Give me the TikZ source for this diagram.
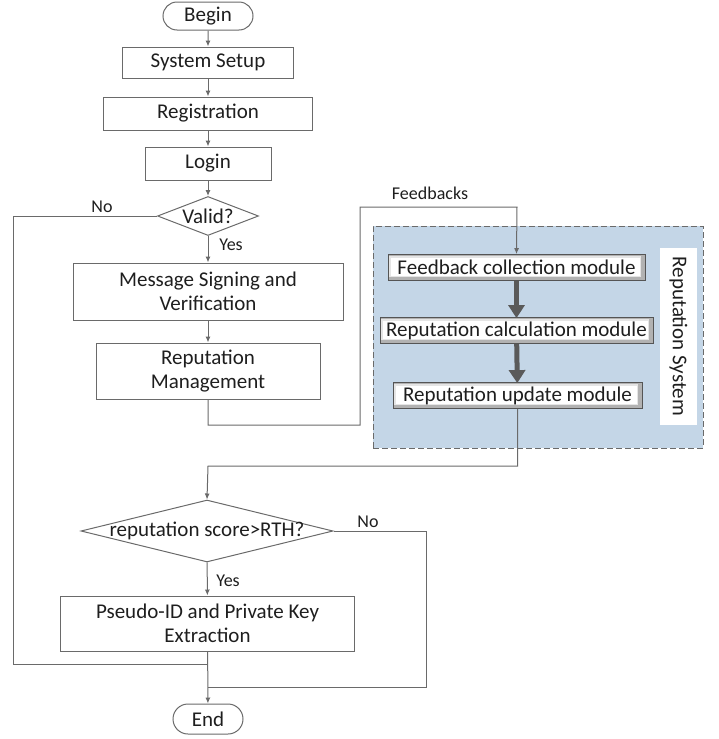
\documentclass[tikz,border=0pt]{standalone}
\usepackage{fontspec}
\setmainfont{Carlito}
\usepackage{xcolor}
\usepackage{tikz}
\usetikzlibrary{arrows.meta, positioning, shapes.geometric, shapes.misc}

\definecolor{lgray}{HTML}{6A6A6A}
\definecolor{txt}{HTML}{1E1E1E}
\definecolor{sysblue}{HTML}{C4D6E7}
\definecolor{darr}{HTML}{5A5A5A}

\begin{document}
\begin{tikzpicture}[x=1pt, y=-1pt, >=latex, font=\fontsize{21}{24}\selectfont, text=txt]
		\tikzstyle{center} = [draw=lgray, line width=1pt, rectangle, align=center, inner sep=1pt]
		\tikzstyle{term} = [draw=lgray, line width=1pt, rounded rectangle, inner sep=1pt]
		\tikzstyle{decision} = [draw=lgray, line width=1pt, diamond, inner sep=0pt]
		\tikzstyle{modbox} = [draw=lgray!80!black, line width=0.8pt, rectangle, fill=gray!60, inner sep=1pt,
			path picture={\fill[gray!20] ([shift={(1pt,-1pt)}]path picture bounding box.north west) rectangle ([shift={(-4pt,4pt)}]path picture bounding box.south east);
				\fill[white] ([shift={(3pt,-3pt)}]path picture bounding box.north west) rectangle ([shift={(-5pt,5pt)}]path picture bounding box.south east);}]
		\tikzstyle{small} = [font=\fontsize{18}{21}\selectfont, inner sep=0pt]
		\tikzstyle{arrow} = [draw=lgray, line width=1pt, -{Latex[length=6pt,width=5pt]}]
		\tikzstyle{line} = [draw=lgray, line width=1pt]
		\tikzstyle{fat} = [draw=darr, line width=5pt, -{Triangle[length=13pt,width=16pt]}, shorten >=-1pt]

		\useasboundingbox (0,0) rectangle (718,739);

		\node[term, minimum width=92, minimum height=28]	at (208, 16)	(s0)	{Begin};
		\node[center, minimum width=171, minimum height=31]	at (208, 62.5)	(s1)	{System Setup};
		\node[center, minimum width=209, minimum height=33]	at (208, 113.5)	(s2)	{Registration};
		\node[center, minimum width=126, minimum height=33]	at (208, 163.5)	(s3)	{Login};
		\node[decision, minimum width=101, minimum height=39, label=center:{Valid?}]	at (208, 216)	(s4)	{};
		\node[center, minimum width=270, minimum height=57]	at (208, 291.5)	(s5)	{Message Signing and\\Verification};
		\node[center, minimum width=224, minimum height=56]	at (208, 371)	(s6)	{Reputation\\Management};
		\node[decision, minimum width=252, minimum height=62, label=center:{reputation score>RTH?}]	at (207, 531)	(s7)	{};
		\node[center, minimum width=294, minimum height=55]	at (207.5, 623.5)	(s8)	{Pseudo-ID and Private Key\\Extraction};
		\node[term, minimum width=72, minimum height=30]	at (208, 719)	(s9)	{End};

		% reputation system
		\node[draw=lgray, dash pattern=on 6pt off 3pt, line width=1pt, fill=sysblue, minimum width=330, minimum height=222]	at (538, 337)	(rs)	{};
		\node[modbox, minimum width=257, minimum height=26]	at (516.5, 267.5)	(m1)	{Feedback collection module};
		\node[modbox, minimum width=273, minimum height=26]	at (516.5, 330.5)	(m2)	{Reputation calculation module};
		\node[modbox, minimum width=249, minimum height=26]	at (517.5, 395.5)	(m3)	{Reputation update module};
		\node[fill=white, rotate=-90, minimum width=177, minimum height=37, inner sep=0pt]	at (678.5, 336.5)	(rsname)	{Reputation System};

		\node[small]	at (102, 207)	(no1)	{No};
		\node[small]	at (231, 245)	(yes1)	{Yes};
		\node[small]	at (430, 193)	(fb)	{Feedbacks};
		\node[small]	at (368, 522)	(no2)	{No};
		\node[small]	at (228, 581)	(yes2)	{Yes};

		\coordinate (c1) at (13, 664);
		\coordinate (c2) at (208, 664);
		\coordinate (c3) at (360, 425);
		\coordinate (c4) at (517, 207);
		\coordinate (c5) at (208, 466);
		\coordinate (c6) at (426, 687);
		\coordinate (c7) at (208, 687);

		\draw [arrow] (s0) -- (s1);
		\draw [arrow] (s1) -- (s2);
		\draw [arrow] (s2) -- (s3);
		\draw [arrow] (s3) -- (s4);
		\draw [arrow] (s4) -- (s5);
		\draw [arrow] (s5) -- (s6);
		\draw [arrow] (s7) -- (s8);
		\draw [arrow] (s8) -- (s9);

		\draw [line] (s4.west) -| (c1) -- (c2);
		\draw [arrow] (s6.south) |- (c3) |- (c4) -- (m1.north);
		\draw [fat] (m1) -- (m2);
		\draw [fat] (m2) -- (m3);
		\draw [arrow] (m3.south) |- (c5) -- (s7.north);
		\draw [line] (s7.east) -| (c6) -- (c7);

	\end{tikzpicture}
\end{document}
